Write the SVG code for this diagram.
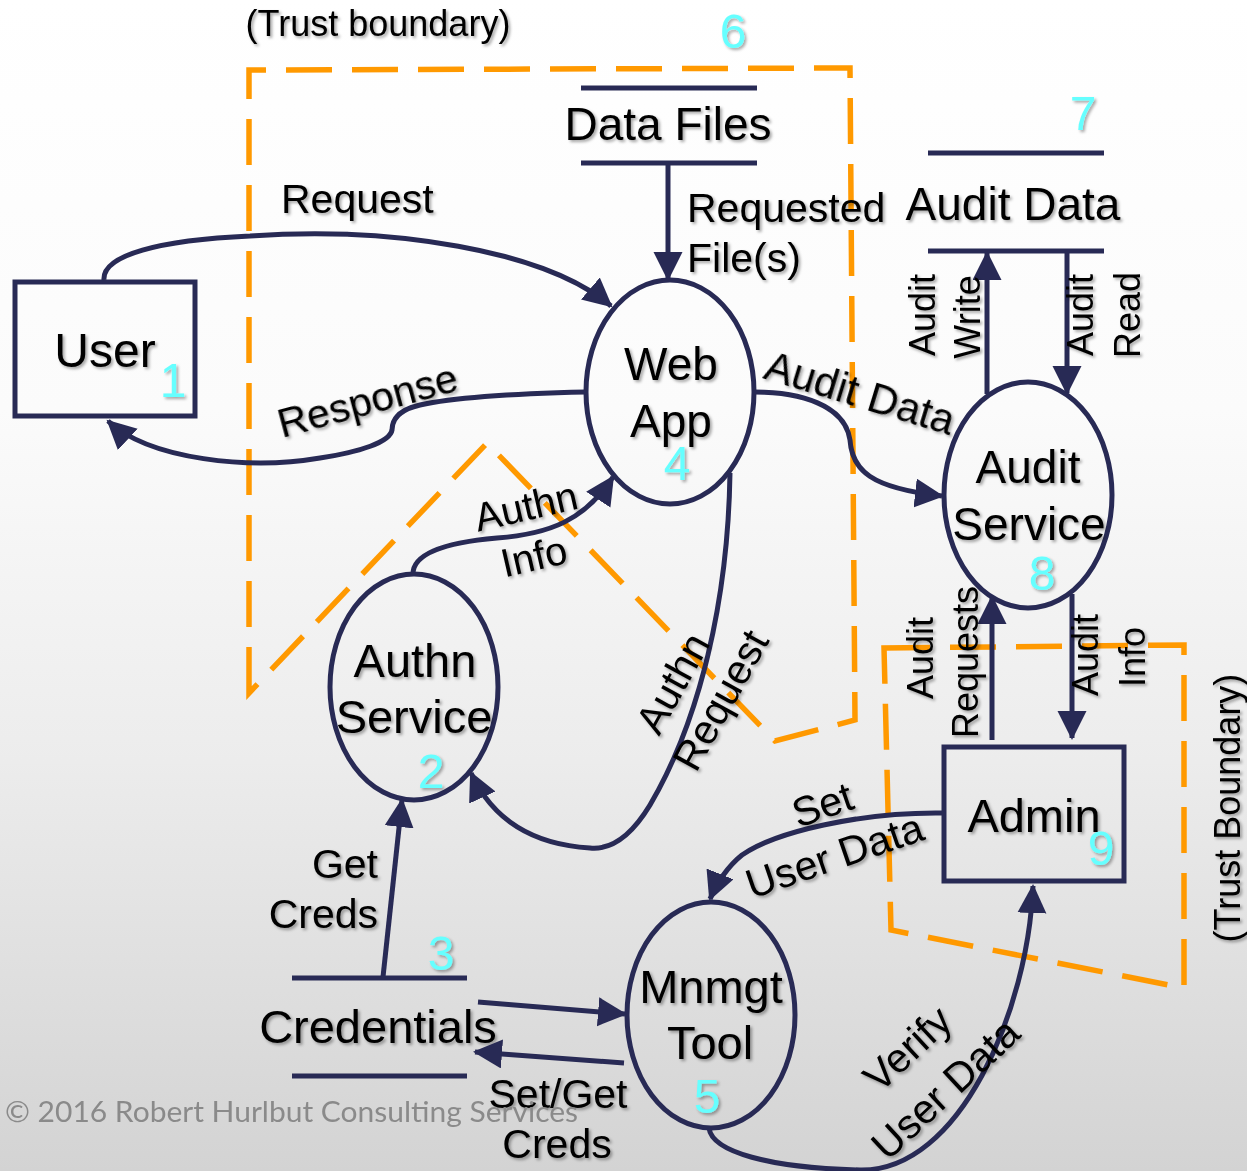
<svg xmlns="http://www.w3.org/2000/svg" width="1247" height="1171" viewBox="0 0 1247 1171">
<defs>
<linearGradient id="bg" x1="0" y1="0" x2="0" y2="1">
<stop offset="0" stop-color="#ffffff"/>
<stop offset="0.35" stop-color="#fbfbfb"/>
<stop offset="0.65" stop-color="#ececec"/>
<stop offset="1" stop-color="#d3d3d3"/>
</linearGradient>
<filter id="sh" x="-20%" y="-20%" width="140%" height="140%">
<feDropShadow dx="2" dy="2" stdDeviation="1.5" flood-color="#000" flood-opacity="0.35"/>
</filter>
<marker id="ah" markerUnits="userSpaceOnUse" markerWidth="30" markerHeight="30" refX="27" refY="14.5" orient="auto" viewBox="0 0 30 30">
<path d="M0,0 L29,14.5 L0,29 Z" fill="#282a55"/>
</marker>
</defs>
<style>
.bd{fill:none;stroke:#ff9900;stroke-width:5.5;stroke-dasharray:46 20;}
.ln{fill:none;stroke:#282a55;stroke-width:5;}
.ar{fill:none;stroke:#282a55;stroke-width:5;marker-end:url(#ah);}
.nd{fill:none;stroke:#282a55;stroke-width:5;}
text{font-family:"Liberation Sans",Arial,sans-serif;fill:#000;}
.t47{font-size:47px;}
.t46{font-size:46px;}
.t41{font-size:41px;}
.t36{font-size:36px;}
.num{font-size:48px;fill:#66ffff;}
.c{text-anchor:middle;}
.e{text-anchor:end;}
.sh{filter:url(#sh);}
</style>
<rect x="0" y="0" width="1247" height="1171" fill="url(#bg)"/>

<g id="trust-boundaries">
<path class="bd" d="M249,693 L249,70 L850,68 L855,720 L775,741 L487,443 Z"/>
<path class="bd" d="M884,648 L1184,645 L1184,988 L891,930 Z"/>
<g class="sh">
<text class="c" x="378" y="36" style="font-size:36px">(Trust boundary)</text>
<text class="c t36" x="1240" y="808" transform="rotate(-90 1240 808)">(Trust Boundary)</text>
</g>
</g>

<g id="node-user">
<rect class="nd" x="15" y="282" width="180" height="134"/>
<g class="sh"><text class="c" x="105" y="367" style="font-size:48px">User</text>
<text class="num c" x="173" y="397">1</text></g>
</g>

<g id="node-authn-service">
<ellipse class="nd" cx="414" cy="687" rx="84" ry="113"/>
<g class="sh"><text class="c t47" x="415" y="677">Authn</text>
<text class="c t47" x="414" y="733">Service</text>
<text class="num c" x="431" y="788">2</text></g>
</g>

<g id="node-credentials">
<line class="ln" x1="292" y1="978" x2="467" y2="978"/>
<line class="ln" x1="292" y1="1076" x2="467" y2="1076"/>
<g class="sh"><text class="c t47" x="378" y="1043">Credentials</text>
<text class="num c" x="441" y="970">3</text></g>
</g>

<g id="node-web-app">
<ellipse class="nd" cx="670" cy="392" rx="84" ry="112"/>
<g class="sh"><text class="c t46" x="671" y="380">Web</text>
<text class="c t46" x="671" y="437">App</text>
<text class="num c" x="677" y="480">4</text></g>
</g>

<g id="node-mnmgt-tool">
<ellipse class="nd" cx="711" cy="1015" rx="84" ry="113"/>
<g class="sh"><text class="c t47" x="711" y="1003">Mnmgt</text>
<text class="c t47" x="710" y="1059">Tool</text>
<text class="num c" x="707" y="1113">5</text></g>
</g>

<g id="node-data-files">
<line class="ln" x1="581" y1="88" x2="757" y2="88"/>
<line class="ln" x1="581" y1="163" x2="757" y2="163"/>
<g class="sh"><text class="c t46" x="668" y="140">Data Files</text>
<text class="num c" x="733" y="48">6</text></g>
</g>

<g id="node-audit-data">
<line class="ln" x1="928" y1="153" x2="1104" y2="153"/>
<line class="ln" x1="928" y1="251" x2="1104" y2="251"/>
<g class="sh"><text class="c t46" x="1013" y="220">Audit Data</text>
<text class="num c" x="1083" y="130">7</text></g>
</g>

<g id="node-audit-service">
<ellipse class="nd" cx="1028" cy="495" rx="84" ry="113"/>
<g class="sh"><text class="c t46" x="1028" y="483">Audit</text>
<text class="c t46" x="1029" y="540">Service</text>
<text class="num c" x="1042" y="590">8</text></g>
</g>

<g id="node-admin">
<rect class="nd" x="944" y="747" width="180" height="134"/>
<g class="sh"><text class="c t47" x="1034" y="832">Admin</text>
<text class="num c" x="1101" y="865">9</text></g>
</g>

<g id="connectors">
<path class="ar" d="M104,280 C102,255 160,240 250,236 C390,226 545,250 611,306"/>
<path class="ar" d="M586,392 C540,393 460,396 420,405 C398,410 392,420 392,430 C390,442 360,452 320,458 C250,470 150,460 108,421"/>
<path class="ar" d="M668,163 L668,279"/>
<path class="ar" d="M755,392 C800,392 845,405 850,440 C852,470 870,488 942,496"/>
<path class="ar" d="M987,394 L987,253"/>
<path class="ar" d="M1067,251 L1067,393"/>
<path class="ar" d="M413,575 C412,555 440,543 497,538 C550,534 585,520 613,477"/>
<path class="ar" d="M730,473 C728,600 700,720 650,805 C630,838 610,850 590,848 C540,845 495,825 471,773"/>
<path class="ar" d="M383,977 L402,800"/>
<path class="ar" d="M478,1002 L625,1014"/>
<path class="ar" d="M624,1063 L475,1052"/>
<path class="ar" d="M992,740 L992,597"/>
<path class="ar" d="M1072,594 L1072,738"/>
<path class="ar" d="M942,813 C860,812 775,832 742,855 C728,866 716,884 710,899"/>
<path class="ar" d="M709,1128 C712,1152 770,1168 860,1170 C960,1172 1028,1010 1033,886"/>
</g>

<g id="connector-labels" class="sh">
<text class="t41" x="281" y="213">Request</text>
<text class="t41" x="282" y="438" transform="rotate(-15 282 438)">Response</text>
<text class="t41" x="687" y="222">Requested</text>
<text class="t41" x="687" y="272">File(s)</text>
<text style="font-size:42px" x="762" y="378" transform="rotate(17 762 378)">Audit Data</text>
<text class="c t36" x="935" y="315" transform="rotate(-90 935 315)">Audit</text>
<text class="c t36" x="980" y="317" transform="rotate(-90 980 317)">Write</text>
<text class="c t36" x="1093" y="315" transform="rotate(-90 1093 315)">Audit</text>
<text class="c t36" x="1140" y="315" transform="rotate(-90 1140 315)">Read</text>
<text class="c" style="font-size:40px" x="529" y="520" transform="rotate(-13 529 520)">Authn</text>
<text class="c" style="font-size:40px" x="537" y="570" transform="rotate(-13 537 570)">Info</text>
<text class="c t41" x="685" y="690" transform="rotate(-61 685 690)">Authn</text>
<text class="c t41" x="733" y="707" transform="rotate(-61 733 707)">Request</text>
<text class="e t41" x="378" y="878">Get</text>
<text class="e t41" x="378" y="928">Creds</text>
<text class="c t41" x="558" y="1108">Set/Get</text>
<text class="c t41" x="557" y="1158">Creds</text>
<text class="c t41" x="827" y="818" transform="rotate(-19 827 818)">Set</text>
<text class="c t41" x="839" y="869" transform="rotate(-19 839 869)">User Data</text>
<text class="c t36" x="933" y="658" transform="rotate(-90 933 658)">Audit</text>
<text class="c t36" x="978" y="662" transform="rotate(-90 978 662)">Requests</text>
<text class="c t36" x="1098" y="655" transform="rotate(-90 1098 655)">Audit</text>
<text class="c t36" x="1145" y="657" transform="rotate(-90 1145 657)">Info</text>
<text class="c t41" x="917" y="1059" transform="rotate(-43 917 1059)">Verify</text>
<text class="c t41" x="955" y="1099" transform="rotate(-43 955 1099)">User Data</text>
</g>

<text x="5" y="1122" textLength="573" lengthAdjust="spacingAndGlyphs" style="font-family:Lato,'Open Sans',sans-serif;font-size:29px;fill:#8a8a8a">© 2016 Robert Hurlbut Consulting Services</text>
</svg>
